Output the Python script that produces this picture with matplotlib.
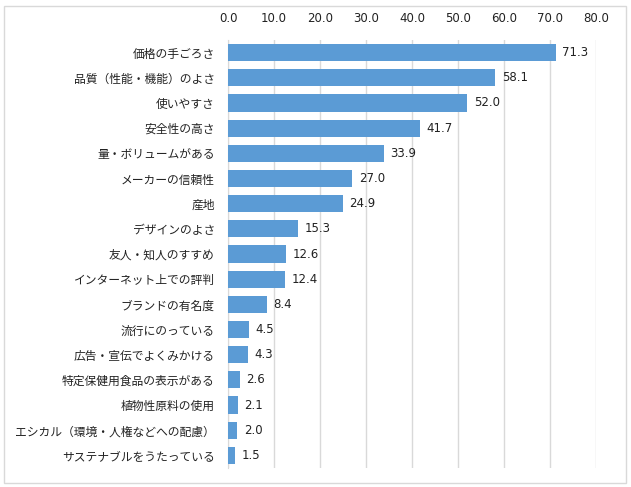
import matplotlib.pyplot as plt
from matplotlib.patches import Rectangle

plt.rcParams['font.family'] = ['Noto Sans CJK JP', 'DejaVu Sans']

labels = ["価格の手ごろさ", "品質（性能・機能）のよさ", "使いやすさ", "安全性の高さ",
          "量・ボリュームがある", "メーカーの信頼性", "産地", "デザインのよさ",
          "友人・知人のすすめ", "インターネット上での評判", "ブランドの有名度",
          "流行にのっている", "広告・宣伝でよくみかける", "特定保健用食品の表示がある",
          "植物性原料の使用", "エシカル（環境・人権などへの配慮）", "サステナブルをうたっている"]
values = [71.3, 58.1, 52.0, 41.7, 33.9, 27.0, 24.9, 15.3, 12.6, 12.4, 8.4,
          4.5, 4.3, 2.6, 2.1, 2.0, 1.5]
xticks = [0, 10, 20, 30, 40, 50, 60, 70, 80]

fig = plt.figure(figsize=(6.31, 4.87), dpi=100)
ax = fig.add_axes([228 / 631, 19 / 487, 368 / 631, 428 / 487])

pos = list(range(len(labels)))
ax.barh(pos, values, height=0.68, color='#5B9BD5', zorder=3)
for p, v in zip(pos, values):
    ax.text(v + 1.4, p, f"{v:.1f}", va='center', ha='left', fontsize=8.5,
            family='DejaVu Sans', color='#222222')

ax.set_ylim(len(labels) - 0.5, -0.5)
ax.set_yticks(pos)
ax.set_yticklabels(labels, fontsize=8.5, color='#222222')
ax.set_xlim(0, 80)
ax.set_xticks(xticks)
ax.set_xticklabels([f"{t:.1f}" for t in xticks], fontsize=8.5,
                   family='DejaVu Sans', color='#222222')
ax.xaxis.tick_top()
ax.tick_params(axis='x', length=0, pad=11)
ax.tick_params(axis='y', length=0, pad=9.5)
ax.grid(axis='x', color='#D9D9D9', linewidth=1, zorder=0)
for s in ['top', 'right', 'bottom']:
    ax.spines[s].set_visible(False)
ax.spines['left'].set_color('#D9D9D9')

fig.patches.append(Rectangle((4 / 631, 4 / 487), 622 / 631, 477 / 487,
                             transform=fig.transFigure, fill=False,
                             edgecolor='#D9D9D9', linewidth=1))

fig.savefig('out.png', dpi=100)
